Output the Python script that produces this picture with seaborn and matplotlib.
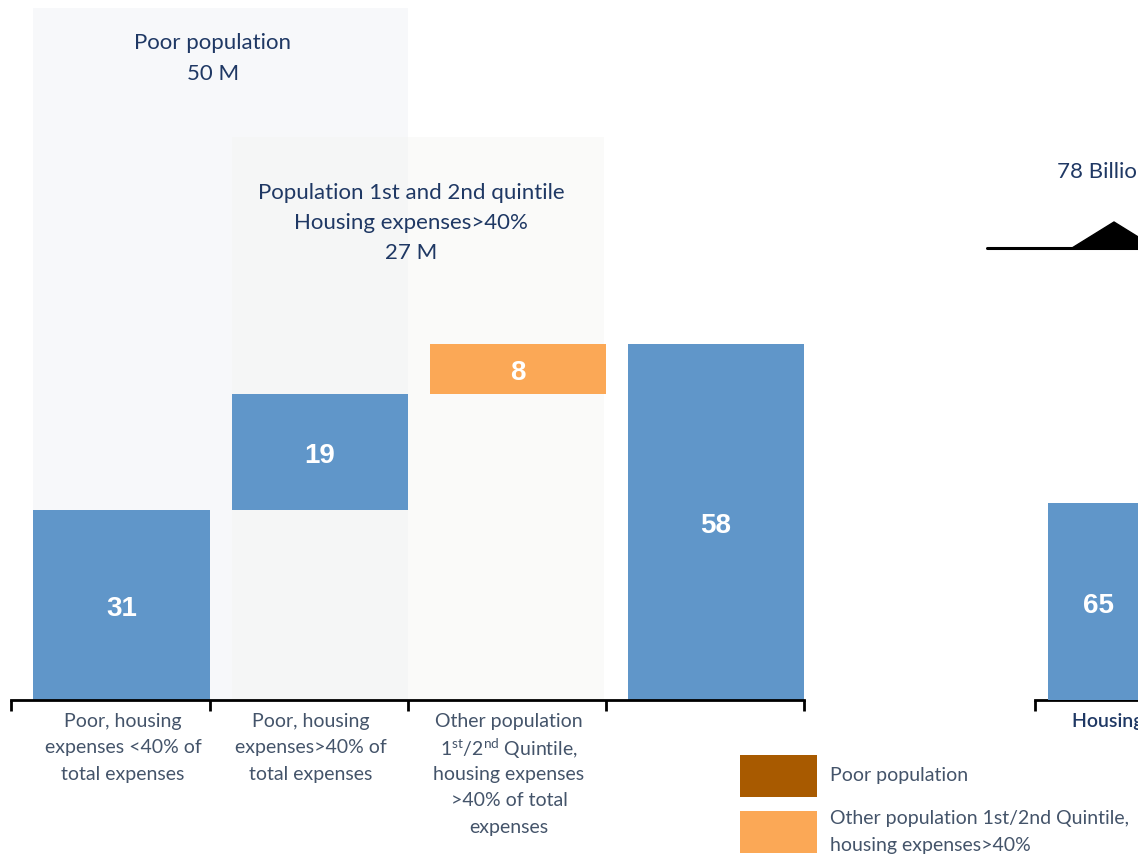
import numpy as np
import pandas as pd
import matplotlib
matplotlib.use("Agg")
import matplotlib.pyplot as plt
from matplotlib.patches import Rectangle, Polygon
from matplotlib.transforms import blended_transform_factory
import seaborn as sns

# ---- data -------------------------------------------------------------
step_names = [
    "Poor, housing expenses <40% of total expenses",
    "Poor, housing expenses>40% of total expenses",
    "Other population 1st/2nd Quintile, housing expenses >40% of total expenses",
]
step_values = [31, 19, 8]
step_groups = ["Poor population", "Poor population", "Other population"]
total_name = "Total"

tick_labels = [
    "Poor, housing\nexpenses <40% of\ntotal expenses",
    "Poor, housing\nexpenses>40% of\ntotal expenses",
    "Other population\n1$^{\\mathrm{st}}$/2$^{\\mathrm{nd}}$ Quintile,\nhousing expenses\n>40% of total\nexpenses",
    "",
]

panel_titles = [
    "Poor population\n50 M",
    "Population 1st and 2nd quintile\nHousing expenses>40%\n27 M",
]

right_names = ["Housing expenses"]
right_values = [65]
right_title = "78 Billion"

legend_labels = ["Poor population", "Other population 1st/2nd Quintile,\nhousing expenses>40%"]

# ---- style ------------------------------------------------------------
sns.set_theme(style="white")
plt.rcParams["font.family"] = ["Lato", "DejaVu Sans"]
plt.rcParams["mathtext.fontset"] = "custom"
plt.rcParams["mathtext.rm"] = "Lato"
plt.rcParams["mathtext.it"] = "Lato:italic"
plt.rcParams["mathtext.bf"] = "Lato:bold"

BLUE = "#6096C9"
ORANGE = "#FBA856"
BROWN = "#A85A00"
NAVY = "#1F3864"
SLATE = "#44546A"
group_colors = {"Poor population": BLUE, "Other population": ORANGE, "Total": BLUE}

W, H = 1138, 860
fig = plt.figure(figsize=(W / 100, H / 100), dpi=100)

# pixel geometry for the layout
unit_x = 198.2          # px per category (left chart)
x0_px = 121.5           # centre of first bar
base_px = 700           # baseline, px from top
scale_left = 6.13       # px per unit (left chart)
scale_right = 3.03      # px per unit (right chart)
unit_x_right = 115.0    # px per category (right chart)
rc_px = 1099            # centre of first right-chart bar
bar_w = 0.888
edge_off = 0.5575       # left bracket tick offset from first bar centre


def stacked_lines(axis, x, y_px, text, spacing_px, **kw):
    """Draw a multi-line label one line at a time with a fixed pixel pitch."""
    trans = blended_transform_factory(axis.transData, axis.transAxes)
    for k, line in enumerate(text.split("\n")):
        axis.text(x, 1 - (y_px + k * spacing_px) / H, line, ha="center",
                  va="center_baseline", transform=trans, **kw)


# ---- waterfall --------------------------------------------------------
bottoms = np.concatenate([[0], np.cumsum(step_values)[:-1]])
total_value = int(np.sum(step_values))
df = pd.DataFrame({
    "name": step_names + [total_name],
    "value": step_values + [total_value],
    "bottom": list(bottoms) + [0],
    "group": step_groups + ["Total"],
})
colors = [group_colors[g] for g in df["group"]]

ax = fig.add_axes([0, 0, 1, 1])
ax.set_facecolor("none")
sns.barplot(data=df, x="name", y="value", hue="name", palette=colors,
            legend=False, width=bar_w, saturation=1, ax=ax, zorder=3)

# lift the floating bars to their cumulative base
for cont in ax.containers:
    for patch in cont:
        idx = int(round(patch.get_x() + patch.get_width() / 2))
        patch.set_y(df["bottom"].iloc[idx])
        patch.set_linewidth(0)

ax.set_xlim(-x0_px / unit_x, (W - x0_px) / unit_x)
ax.set_ylim(-(H - base_px) / scale_left, base_px / scale_left)

# background panels behind the bars
ytop1 = (base_px - 8) / scale_left
ytop2 = (base_px - 137) / scale_left
ax.add_patch(Rectangle((-bar_w / 2, 0), 1 + bar_w, ytop1, facecolor="#F7F8FA",
                       edgecolor="none", zorder=0))
ax.add_patch(Rectangle((1 - bar_w / 2, 0), 1 + bar_w - 0.01, ytop2, facecolor="#F3F3F1",
                       alpha=0.4, edgecolor="none", zorder=1))

# value labels
for i, row in df.iterrows():
    ax.annotate(f"{row['value']}", (i, row["bottom"] + row["value"] / 2),
                xytext=(0, -3), textcoords="offset points", ha="center",
                va="center", color="white", fontsize=20, fontweight="bold",
                family="Liberation Sans", zorder=4)

# panel titles
stacked_lines(ax, 0.5 - 0.04, 41, panel_titles[0], 31, color=NAVY, fontsize=16, zorder=4)
stacked_lines(ax, 1.5 - 0.04, 191, panel_titles[1], 30, color=NAVY, fontsize=16, zorder=4)

# axis with bracket ticks
for s in ["left", "right", "top"]:
    ax.spines[s].set_visible(False)
boundaries = [-edge_off] + [i + bar_w / 2 for i in range(4)]
ax.spines["bottom"].set_position(("data", 0))
ax.spines["bottom"].set_bounds(boundaries[0], boundaries[-1])
ax.spines["bottom"].set_linewidth(2)
ax.spines["bottom"].set_color("black")
ax.spines["bottom"].set_zorder(5)
ax.set_xticks(boundaries)
ax.set_xticklabels([""] * len(boundaries))
ax.tick_params(axis="x", direction="out", length=8, width=2, color="black", bottom=True)
ax.set_yticks([])
ax.set_xlabel("")
ax.set_ylabel("")

label_x = [0.008, 0.956, 1.955, 3.0]
for x, lab in zip(label_x, tick_labels):
    if lab:
        stacked_lines(ax, x, 720, lab, 26.5, color=SLATE, fontsize=14)

# ---- right-hand chart (continues past the edge) -----------------------
ax2 = fig.add_axes([0, 0, 1, 1])
ax2.set_facecolor("none")
rdf = pd.DataFrame({"name": right_names, "value": right_values})
sns.barplot(data=rdf, x="name", y="value", color=BLUE, width=bar_w,
            saturation=1, ax=ax2, zorder=3)
for p in ax2.patches:
    p.set_linewidth(0)
ax2.set_xlim(-rc_px / unit_x_right, (W - rc_px) / unit_x_right)
ax2.set_ylim(-(H - base_px) / scale_right, base_px / scale_right)
for i, v in enumerate(right_values):
    ax2.annotate(f"{v}", (i, v / 2), xytext=(0, -3), textcoords="offset points",
                 ha="center", va="center", color="white", fontsize=20,
                 fontweight="bold", family="Liberation Sans", zorder=4)
for s in ["left", "right", "top"]:
    ax2.spines[s].set_visible(False)
ax2.spines["bottom"].set_position(("data", 0))
ax2.spines["bottom"].set_bounds(-edge_off, 1.5)
ax2.spines["bottom"].set_linewidth(2)
ax2.spines["bottom"].set_color("black")
ax2.set_xticks([-edge_off])
ax2.set_xticklabels([""])
ax2.tick_params(axis="x", direction="out", length=8, width=2, color="black", bottom=True)
ax2.set_yticks([])
ax2.set_xlabel("")
ax2.set_ylabel("")
tr2 = blended_transform_factory(ax2.transData, ax2.transAxes)
for i, n in enumerate(right_names):
    ax2.text(i - 0.235, 1 - 720 / H, n, ha="left", va="center_baseline", color=NAVY,
             fontsize=14, fontweight="semibold", transform=tr2)

# bracket with peak marker above the right chart
fx = lambda px: px / W
fy = lambda py: 1 - py / H
fig.add_artist(plt.Line2D([fx(987), fx(1200)], [fy(248), fy(248)],
                          color="black", lw=2.2, transform=fig.transFigure))
fig.add_artist(Polygon([[fx(1072), fy(248)], [fx(1114), fy(222)], [fx(1156), fy(248)]],
                       closed=True, facecolor="black", edgecolor="black",
                       transform=fig.transFigure))
fig.text(fx(1057), fy(172), right_title, ha="left", va="center", color=NAVY,
         fontsize=16)

# ---- legend -----------------------------------------------------------
leg_items = [(BROWN, 755, 797, legend_labels[0]), (ORANGE, 811, 853, legend_labels[1])]
for col, y_top, y_bot, lab in leg_items:
    fig.add_artist(Rectangle((fx(740), fy(y_bot)), fx(817) - fx(740), fy(y_top) - fy(y_bot),
                             facecolor=col, edgecolor="none", transform=fig.transFigure))
    fig.text(fx(830), fy((y_top + y_bot) / 2), lab, ha="left", va="center",
             color=SLATE, fontsize=14, linespacing=1.72)

fig.savefig("out.png", dpi=100)
